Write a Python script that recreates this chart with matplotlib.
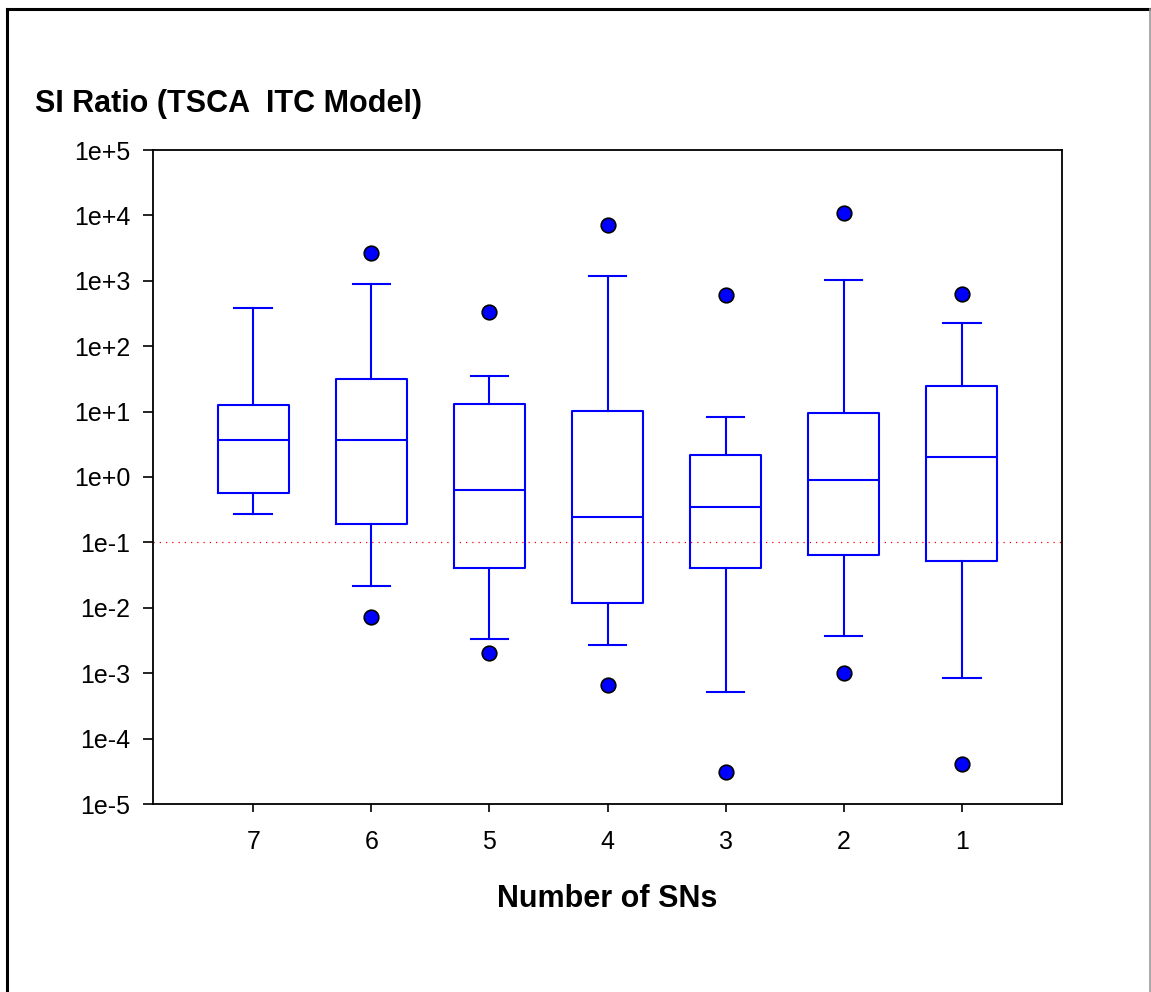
import numpy as np
import matplotlib.pyplot as plt
from matplotlib.lines import Line2D
from matplotlib.ticker import FixedLocator, FuncFormatter, NullLocator

plt.rcParams["font.family"] = ["Liberation Sans", "DejaVu Sans"]

# SI ratio box statistics per number of SNs (log-scale values)
groups = ["7", "6", "5", "4", "3", "2", "1"]
whislo = [0.272, 0.0215, 0.00333, 0.00273, 0.000507, 0.00366, 0.000859]
q1 = [0.564, 0.191, 0.041, 0.012, 0.0407, 0.0632, 0.0518]
med = [3.64, 3.68, 0.632, 0.241, 0.347, 0.912, 1.99]
q3 = [12.6, 31.2, 12.9, 10.3, 2.14, 9.46, 24.9]
whishi = [384, 893, 35.0, 1183, 8.32, 1042, 230]
fliers = [[], [2690, 0.00716], [337, 0.00201], [7120, 0.00066],
          [598, 3.08e-5], [10900, 0.00101], [622, 4.09e-5]]
threshold = 0.1

W, H = 1151, 992
fig = plt.figure(figsize=(W / 100, H / 100), dpi=100)
ax = fig.add_axes([153 / W, 1 - 804 / H, (1062 - 153) / W, (804 - 150) / H])

stats = [dict(whislo=a, q1=b, med=c, q3=d, whishi=e, fliers=f, label=g)
         for a, b, c, d, e, f, g in zip(whislo, q1, med, q3, whishi, fliers, groups)]
pos = np.arange(len(groups))
blue = "#0000ff"
ax.bxp(stats, positions=pos, widths=0.6, capwidths=0.32,
       boxprops=dict(color=blue, lw=1.5),
       whiskerprops=dict(color=blue, lw=1.5),
       capprops=dict(color=blue, lw=1.5),
       medianprops=dict(color=blue, lw=1.5),
       flierprops=dict(marker="o", markersize=10.5, markerfacecolor=blue,
                       markeredgecolor="black", markeredgewidth=1.2,
                       linestyle="none"))

ax.axhline(threshold, color="red", ls=(0, (1, 4)), lw=0.9, zorder=0)

ax.set_yscale("log")
ax.set_ylim(1e-5, 1e5)
ax.yaxis.set_major_locator(FixedLocator([10.0 ** e for e in range(-5, 6)]))
ax.yaxis.set_minor_locator(NullLocator())
ax.yaxis.set_major_formatter(FuncFormatter(lambda v, _: f"1e{int(round(np.log10(v))):+d}"))
ax.set_xlim(-0.85, len(groups) - 0.15)
ax.set_xticks(pos)
ax.set_xticklabels(groups)

ax.tick_params(axis="y", direction="out", length=7.2, width=1.2, pad=9, labelsize=18)
ax.tick_params(axis="x", direction="out", length=6, width=1.2, pad=13, labelsize=18)
for s in ax.spines.values():
    s.set_linewidth(1.3)

ax.set_xlabel("Number of SNs", fontsize=22, fontweight="bold", labelpad=21)
fig.text(35 / W, 1 - 112 / H, "SI Ratio (TSCA  ITC Model)", fontsize=22,
         fontweight="bold", ha="left", va="baseline")

# page frame
fig.add_artist(Line2D([7.5 / W, 7.5 / W], [0, 1 - 8.5 / H], color="black", lw=2.2))
fig.add_artist(Line2D([7.5 / W, 1150 / W], [1 - 8.5 / H, 1 - 8.5 / H], color="black", lw=2.2))
fig.add_artist(Line2D([1150 / W, 1150 / W], [0, 1 - 8.5 / H], color="#999999", lw=1.2))

fig.savefig("out.png", dpi=100)
